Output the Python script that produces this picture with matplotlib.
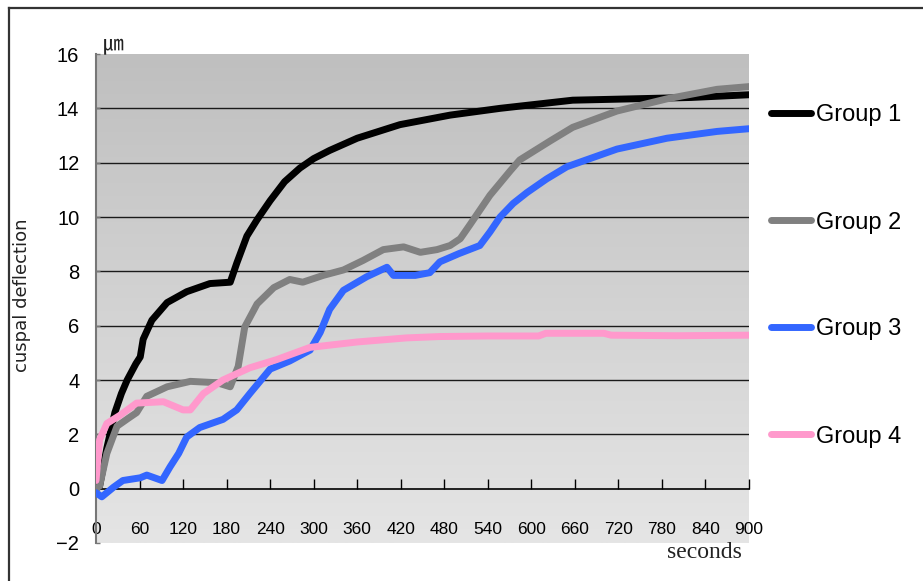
import numpy as np
import matplotlib
matplotlib.use("Agg")
import matplotlib.pyplot as plt
from matplotlib import font_manager
from matplotlib.lines import Line2D

# ---------------- data ----------------
t_g1 = [0, 5, 15, 26, 35, 43, 55, 61, 65, 77, 98, 125, 157, 185, 194, 208, 222, 240, 260, 281, 300, 322, 360, 419, 488, 557, 657, 740, 820, 900]
v_g1 = [0, 0.1, 1.5, 2.8, 3.5, 4.0, 4.6, 4.85, 5.5, 6.2, 6.85, 7.25, 7.55, 7.6, 8.3, 9.3, 9.9, 10.6, 11.3, 11.8, 12.15, 12.45, 12.9, 13.4, 13.75, 14.0, 14.3, 14.35, 14.4, 14.5]

t_g2 = [0, 5, 15, 29, 45, 56, 70, 98, 130, 167, 185, 196, 205, 222, 245, 267, 285, 313, 341, 368, 396, 424, 447, 470, 488, 502, 515, 529, 543, 557, 571, 584, 626, 657, 718, 787, 856, 900]
v_g2 = [0, 0.1, 1.3, 2.3, 2.6, 2.8, 3.4, 3.75, 3.95, 3.9, 3.75, 4.5, 5.95, 6.8, 7.4, 7.7, 7.6, 7.85, 8.05, 8.4, 8.8, 8.9, 8.7, 8.8, 8.95, 9.2, 9.7, 10.25, 10.8, 11.25, 11.7, 12.1, 12.8, 13.3, 13.9, 14.35, 14.7, 14.8]

t_g3 = [0, 8, 24, 37, 61, 70, 91, 102, 114, 125, 143, 175, 194, 212, 240, 267, 295, 309, 322, 341, 373, 401, 410, 440, 460, 474, 500, 529, 543, 557, 575, 594, 621, 649, 718, 787, 856, 900]
v_g3 = [-0.15, -0.3, 0.05, 0.3, 0.4, 0.5, 0.3, 0.8, 1.3, 1.9, 2.25, 2.55, 2.9, 3.5, 4.4, 4.7, 5.1, 5.75, 6.6, 7.3, 7.8, 8.15, 7.85, 7.85, 7.95, 8.35, 8.65, 8.95, 9.45, 10.0, 10.5, 10.9, 11.4, 11.85, 12.5, 12.9, 13.15, 13.25]

t_g4 = [0, 5, 15, 33, 56, 93, 120, 130, 148, 175, 212, 249, 295, 360, 428, 474, 540, 610, 620, 700, 710, 800, 900]
v_g4 = [0.3, 1.8, 2.4, 2.7, 3.15, 3.2, 2.9, 2.9, 3.5, 4.0, 4.45, 4.75, 5.2, 5.4, 5.55, 5.6, 5.62, 5.62, 5.72, 5.72, 5.65, 5.63, 5.65]

series_names = ["Group 1", "Group 2", "Group 3", "Group 4"]
series_colors = ["#000000", "#808080", "#3366ff", "#ff99cc"]
x_ticks = list(range(0, 901, 60))
y_ticks = list(range(-2, 17, 2))

# ---------------- fonts ----------------
avail = {f.name for f in font_manager.fontManager.ttflist}
narrow = "Liberation Sans Narrow" if "Liberation Sans Narrow" in avail else "Liberation Sans"
plt.rcParams["font.family"] = [narrow, "DejaVu Sans"]
plt.rcParams["axes.unicode_minus"] = True

W, H = 923, 581
fig = plt.figure(figsize=(W / 100, H / 100), dpi=100)
fig.patch.set_facecolor("white")

# outer frame (top and left edge)
fig.add_artist(Line2D([9 / W, 1], [1 - 8 / H, 1 - 8 / H], transform=fig.transFigure, color="#333333", lw=1.6))
fig.add_artist(Line2D([9 / W, 9 / W], [0, 1 - 8 / H], transform=fig.transFigure, color="#333333", lw=1.6))

ax = fig.add_axes([96 / W, 1 - 543 / H, (749 - 96) / W, (543 - 54) / H])
ax.set_xlim(0, 900)
ax.set_ylim(-2, 16)

# gradient background
grad = np.linspace(0, 1, 256).reshape(-1, 1)
top_c = np.array([191, 191, 191]) / 255
bot_c = np.array([229, 229, 229]) / 255
img = top_c[None, None, :] * (1 - grad[:, :, None]) + bot_c[None, None, :] * grad[:, :, None]
ax.imshow(img, extent=[0, 900, -2, 16], aspect="auto", origin="upper", zorder=0)

# grid lines
for yv in range(2, 16, 2):
    ax.axhline(yv, color="#1a1a1a", lw=1.0, zorder=1)

# series
for (tt, vv), name, col in zip([(t_g1, v_g1), (t_g2, v_g2), (t_g3, v_g3), (t_g4, v_g4)], series_names, series_colors):
    ax.plot(tt, vv, color=col, lw=5, solid_capstyle="round", solid_joinstyle="round", label=name, zorder=3)

# spines
for s in ["top", "right"]:
    ax.spines[s].set_visible(False)
ax.spines["bottom"].set_position(("data", 0))
ax.spines["bottom"].set_color("black")
ax.spines["bottom"].set_linewidth(1.2)
ax.spines["bottom"].set_zorder(2)
ax.spines["left"].set_color("#777777")
ax.spines["left"].set_linewidth(1.5)

ax.set_xticks(x_ticks)
ax.set_xticklabels([str(v) for v in x_ticks])
ax.set_yticks(y_ticks)
ax.set_yticklabels([str(v).replace("-", "\u2212") for v in y_ticks])
ax.tick_params(axis="x", direction="in", length=7, width=1, color="black", pad=24, labelsize=12.5)
ax.tick_params(axis="y", direction="in", length=3, width=1, color="#777777", pad=12, labelsize=14.5)

# unit label
ax.text(0.010, 1.0, "\u339b", transform=ax.transAxes, ha="left", va="bottom", fontsize=15,
        family=["Noto Sans CJK KR", "DejaVu Sans"], color="#222222")

# axis labels
fig.text(22 / W, 1 - 295 / H, "cuspal deflection", rotation=90, ha="center", va="center",
         fontsize=13, family=["DejaVu Sans"], color="#222222")
fig.text(704 / W, 1 - 553 / H, "seconds", ha="center", va="center", fontsize=17,
         family=["Liberation Serif", "DejaVu Serif"], color="#222222")

# legend
leg = fig.legend(loc="center left", bbox_to_anchor=(771 / W, 1 - 276 / H), frameon=False,
                 fontsize=17, handlelength=1.7, handletextpad=0.22, labelspacing=3.6,
                 borderpad=0, borderaxespad=0)
for line in leg.get_lines():
    line.set_linewidth(5)

fig.savefig("out.png", dpi=100, facecolor="white")
